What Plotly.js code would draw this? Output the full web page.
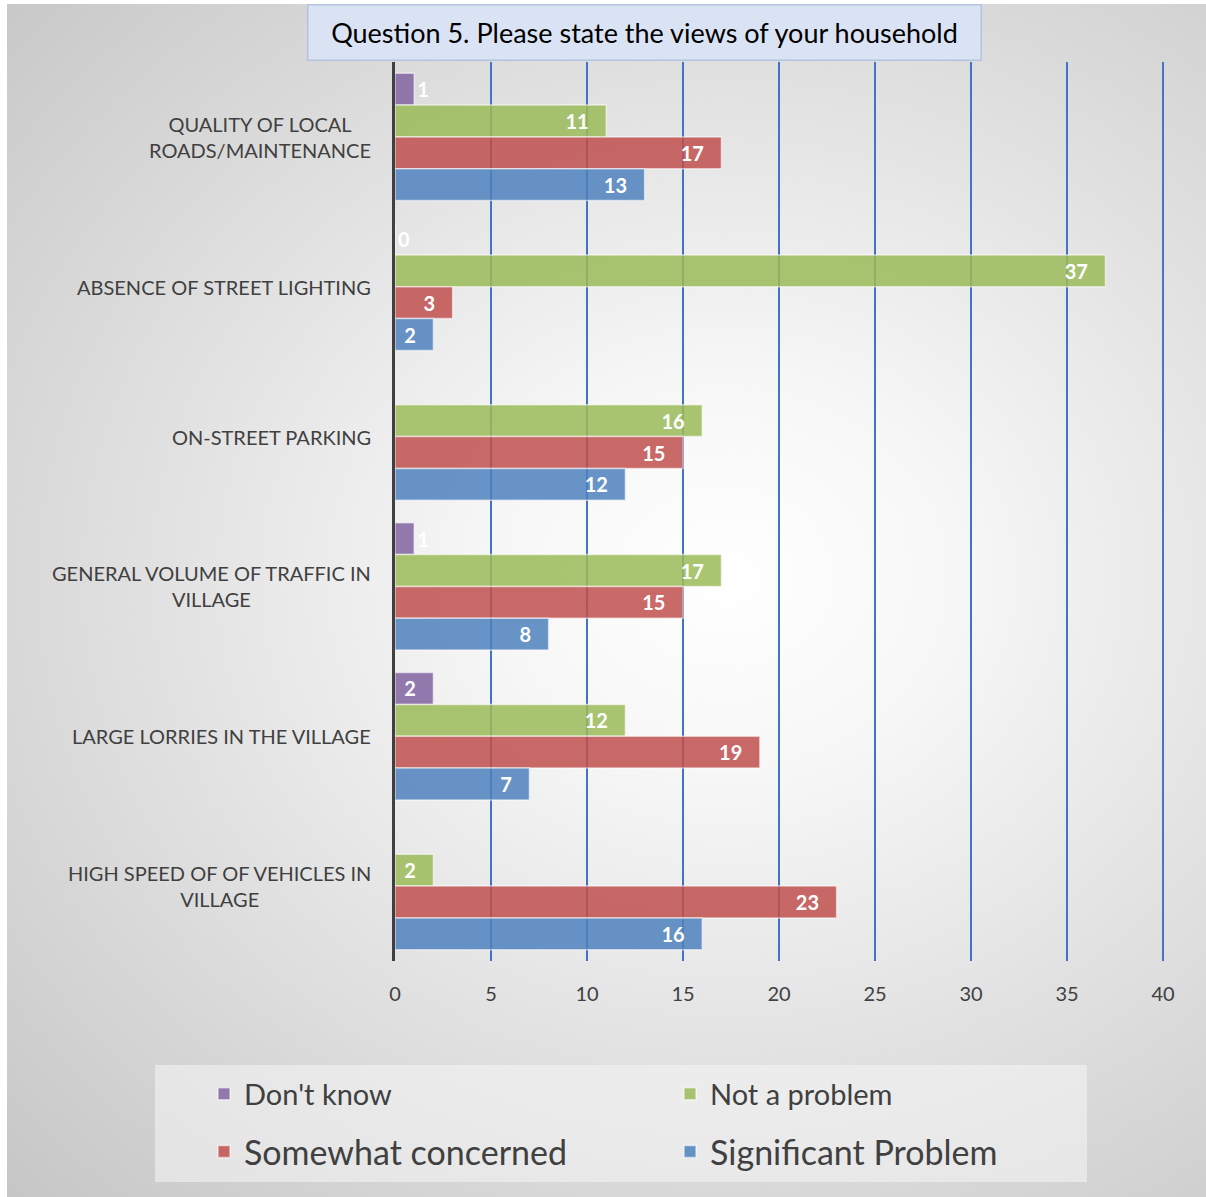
<!DOCTYPE html>
<html>
<head>
<meta charset="utf-8">
<script src="https://cdn.plot.ly/plotly-3.0.1.min.js"></script>
<style>
  html, body { margin: 0; padding: 0; background: #ffffff; width: 1206px; height: 1197px; overflow: hidden; }
  #frame {
    position: absolute; left: 7px; top: 4px; width: 1199px; height: 1193px;
    background: radial-gradient(ellipse farthest-corner at 60% 48%, #ffffff 0%, #f7f7f7 22%, #e2e2e2 55%, #c6c6c6 100%);
  }
  #chart { position: absolute; left: 0; top: 0; width: 1199px; height: 1193px; }
</style>
</head>
<body>
<div id="frame"><div id="chart"></div></div>
<script>
// ---- data ----
const categories = [
  "QUALITY OF LOCAL ROADS/MAINTENANCE",
  "ABSENCE OF STREET LIGHTING",
  "ON-STREET PARKING",
  "GENERAL VOLUME OF TRAFFIC IN VILLAGE",
  "LARGE LORRIES IN THE VILLAGE",
  "HIGH SPEED OF OF VEHICLES IN VILLAGE"
];
const categoryLabels = [
  "QUALITY OF LOCAL<br>ROADS/MAINTENANCE",
  "ABSENCE OF STREET LIGHTING",
  "ON-STREET PARKING",
  "GENERAL VOLUME OF TRAFFIC IN<br>VILLAGE",
  "LARGE LORRIES IN THE VILLAGE",
  "HIGH SPEED OF OF VEHICLES IN<br>VILLAGE"
];
const dontKnow          = [1, 0, null, 1, 2, null];
const notAProblem       = [11, 37, 16, 17, 12, 2];
const somewhatConcerned = [17, 3, 15, 15, 19, 23];
const significant       = [13, 2, 12, 8, 7, 16];
const seriesNames = ["Don't know", "Not a problem", "Somewhat concerned", "Significant Problem"];
const xTicks = [0, 5, 10, 15, 20, 25, 30, 35, 40];
const titleText = "Question 5. Please state the views of your household";

// ---- styling ----
const FONT = "Lato, 'Open Sans', sans-serif";
const colors = ["rgba(128,100,162,0.85)", "rgba(155,187,89,0.85)", "rgba(192,80,77,0.85)", "rgba(79,129,189,0.85)"];
const seriesValues = [dontKnow, notAProblem, somewhatConcerned, significant];
const legendIds = ["legend", "legend", "legend2", "legend2"];
const pad = "\u00a0\u00a0\u00a0";

const traces = seriesValues.map((vals, i) => ({
  type: "bar",
  orientation: "h",
  name: seriesNames[i],
  y: categories,
  x: vals,
  legend: legendIds[i],
  marker: { color: colors[i], line: { color: "rgba(255,255,255,0.55)", width: 1.5 } },
  text: vals.map(v => (v === null ? "" : String(v) + pad)),
  texttemplate: "%{text}",
  textposition: vals.map(v => (v !== null && v < 2 ? "outside" : "inside")),
  insidetextanchor: "end",
  constraintext: "none",
  textfont: { family: FONT, size: 20, color: "#ffffff", weight: "bold" },
  insidetextfont: { family: FONT, size: 20, color: "#ffffff", weight: "bold" },
  outsidetextfont: { family: FONT, size: 20, color: "#ffffff", weight: "bold" },
  cliponaxis: false,
  hoverinfo: "x+name"
}));

// pixel helpers for paper coords (plot area: x 388..1157, y 58..957 inside div)
const L = 388, T = 58, W = 769, H = 899;
const px = X => (X - 7 - L) / W;
const py = Y => (T + H - (Y - 4)) / H;

const annotations = categories.map((c, i) => ({
  xref: "paper", yref: "y",
  x: px(373), y: c,
  xanchor: "right", yanchor: "middle", align: "center",
  text: categoryLabels[i],
  showarrow: false,
  font: { family: FONT, size: 20, color: "#404040" }
}));
annotations.push({
  xref: "paper", yref: "paper",
  x: px(644.5), y: py(4), xanchor: "center", yanchor: "top",
  width: 672, height: 54,
  text: titleText, showarrow: false,
  bgcolor: "#dae3f3", bordercolor: "#b4c3df", borderwidth: 1.5, borderpad: 0,
  font: { family: FONT, size: 27, color: "#000000" }
});

const xMax = xTicks[xTicks.length - 1];

const layout = {
  width: 1199, height: 1193,
  margin: { l: L, r: 1199 - L - W, t: T, b: 1193 - T - H, pad: 0 },
  paper_bgcolor: "rgba(0,0,0,0)",
  plot_bgcolor: "rgba(0,0,0,0)",
  font: { family: FONT, color: "#404040" },
  barmode: "group",
  bargap: 0.15,
  bargroupgap: 0,
  xaxis: {
    range: [0, xMax + 0.05], tickvals: xTicks, ticktext: xTicks.map(String),
    showgrid: true, gridcolor: "#4472c4", gridwidth: 2,
    zeroline: false, showline: false, ticks: "",
    ticklabelstandoff: 19,
    tickfont: { family: FONT, size: 20, color: "#404040" },
    fixedrange: true
  },
  yaxis: {
    type: "category", categoryorder: "array", categoryarray: categories,
    autorange: "reversed", showticklabels: false, showgrid: false, zeroline: false,
    showline: true, linecolor: "#404040", linewidth: 3, ticks: "", fixedrange: true
  },
  legend: {
    orientation: "h", x: px(204), y: py(1094), xanchor: "left", yanchor: "middle",
    entrywidth: 421, entrywidthmode: "pixels",
    bgcolor: "rgba(0,0,0,0)", font: { family: FONT, size: 29, color: "#404040" },
    traceorder: "normal"
  },
  legend2: {
    orientation: "h", x: px(204), y: py(1152), xanchor: "left", yanchor: "middle",
    entrywidth: 421, entrywidthmode: "pixels",
    bgcolor: "rgba(0,0,0,0)", font: { family: FONT, size: 34, color: "#404040" },
    traceorder: "normal"
  },
  shapes: [
    {
      type: "rect", xref: "paper", yref: "paper", layer: "below",
      x0: px(155), x1: px(1087), y0: py(1065), y1: py(1182),
      fillcolor: "rgba(245,245,245,0.55)", line: { width: 0 }
    },
    {
      // grid line at the axis maximum (Plotly omits grid lines on the plot edge)
      type: "line", xref: "x", yref: "paper", layer: "below",
      x0: xMax, x1: xMax, y0: 0, y1: 1,
      line: { color: "#4472c4", width: 2 }
    }
  ],
  annotations: annotations,
  showlegend: true
};

Plotly.newPlot("chart", traces, layout, { displayModeBar: false, staticPlot: true });
</script>
</body>
</html>
